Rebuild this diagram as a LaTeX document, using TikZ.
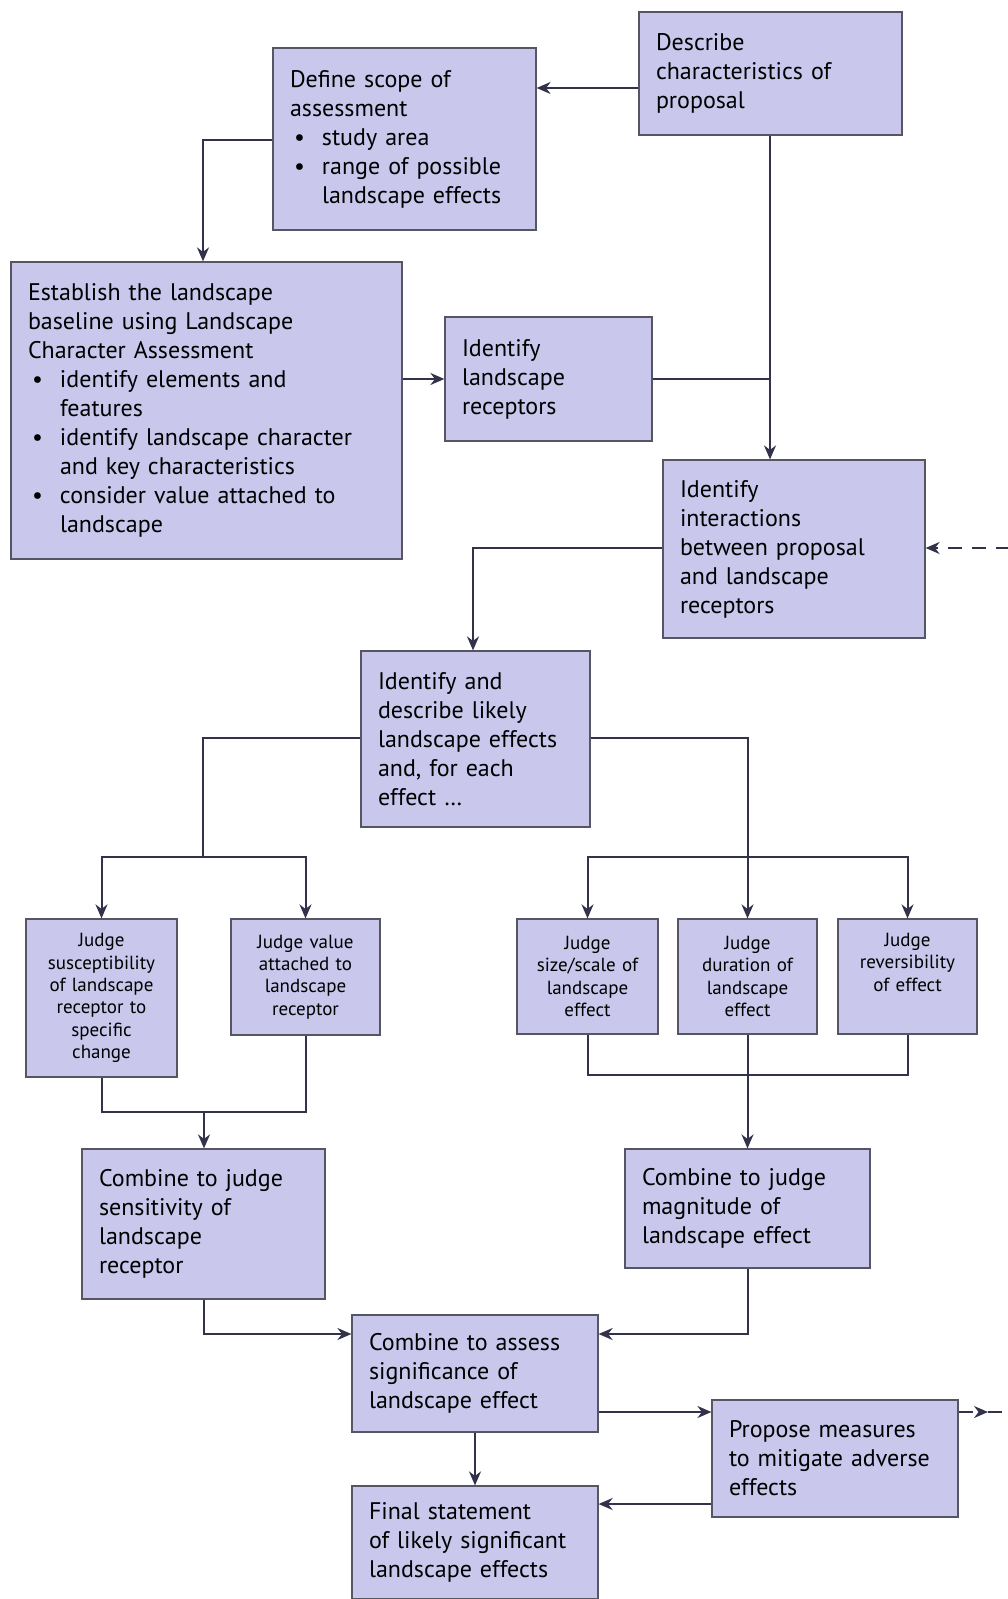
\documentclass[tikz,border=0pt]{standalone}
\usepackage{fontspec}
\setmainfont{PT Sans}
\usetikzlibrary{arrows.meta}
\definecolor{boxfill}{RGB}{201,199,236}
\definecolor{boxline}{RGB}{85,85,100}
\definecolor{linecol}{RGB}{50,50,75}
\newcommand{\bul}{\makebox[16pt][l]{\hspace{2pt}\textbullet}}
\newcommand{\cont}{\hspace*{16pt}}
\tikzset{%
    box/.style={%
        draw=boxline, fill=boxfill, line width=0.6pt, inner xsep=8.5pt, inner ysep=4pt,
        align=left, font=\fontsize{12}{14.5}\selectfont
    },
    judge/.style={%
        box, align=center, inner xsep=2pt, font=\fontsize{9.5}{11.2}\selectfont
    },
    link/.style={draw=linecol, line width=1pt},
    arr/.style={link, -{Stealth[length=7pt,width=6pt]}},
    feedback/.style={dash pattern=on 7pt off 5pt}
}

\begin{document}
\begin{tikzpicture}[x=0.5pt, y=-0.5pt]
    \useasboundingbox (0,0) rectangle (1007,1599);
    % boxes
    \node[box, text width=114.5pt, minimum height=61.5pt] (desc) at (770.5,73.5)
        {Describe\\characteristics of\\proposal};
    \node[box, text width=114.5pt, minimum height=91pt] (scope) at (404.5,139)
        {Define scope of\\assessment\\\bul study area\\\bul range of possible\\\cont landscape effects};
    \node[box, text width=178.5pt, minimum height=148.5pt] (base) at (206.5,410.5)
        {Establish the landscape\\baseline using Landscape\\Character Assessment\\
         \bul identify elements and\\\cont features\\
         \bul identify landscape character\\\cont and key characteristics\\
         \bul consider value attached to\\\cont landscape};
    \node[box, text width=86.5pt, minimum height=62pt] (recep) at (548.5,379)
        {Identify\\landscape\\receptors};
    \node[box, text width=114pt, minimum height=89pt] (inter) at (794,549)
        {Identify\\interactions\\between proposal\\and landscape\\receptors};
    \node[box, text width=97.5pt, minimum height=88pt] (ident) at (475.5,739)
        {Identify and\\describe likely\\landscape effects\\and, for each\\effect \dots};
    \node[judge, text width=71.5pt, minimum height=79pt] (susc) at (101.5,998)
        {Judge\\susceptibility\\of landscape\\receptor to\\specific\\change};
    \node[judge, text width=70.5pt, minimum height=58pt] (value) at (305.5,977)
        {Judge value\\attached to\\landscape\\receptor};
    \node[judge, text width=66.5pt, minimum height=57.5pt] (size) at (587.5,976.5)
        {Judge\\size/scale of\\landscape\\effect};
    \node[judge, text width=65.5pt, minimum height=57.5pt] (dur) at (747.5,976.5)
        {Judge\\duration of\\landscape\\effect};
    \node[judge, text width=65.5pt, minimum height=57.5pt] (rev) at (907.5,976.5)
        {Judge\\reversibility\\of effect\\\strut};
    \node[box, text width=104.5pt, minimum height=75pt] (sens) at (203.5,1224)
        {Combine to judge\\sensitivity of\\landscape\\receptor};
    \node[box, text width=105.5pt, minimum height=59.5pt] (magn) at (747.5,1208.5)
        {Combine to judge\\magnitude of\\landscape effect};
    \node[box, text width=106pt, minimum height=58.5pt] (signif) at (475,1373.5)
        {Combine to assess\\significance of\\landscape effect};
    \node[box, text width=106pt, minimum height=58.5pt] (mitig) at (835,1458.5)
        {Propose measures\\to mitigate adverse\\effects};
    \node[box, text width=106pt, minimum height=56.5pt] (final) at (475,1542.5)
        {Final statement\\of likely significant\\landscape effects};
    \coordinate (fbin) at (1010,548);
    \coordinate (fbout) at (1010,1412);
    % connectors
    \draw[arr] (desc.west |- 0,88) -- (scope.east |- 0,88);
    \draw[arr] (scope.west |- 0,140) -| (base.north -| 203,0);
    \draw[arr] (base.east |- 0,379) -- (recep.west);
    \draw[arr] (desc.south -| 770,0) -- (inter.north -| 770,0);
    \draw[link] (recep.east) -- (770,379);
    \draw[arr] (inter.west |- 0,548) -| (ident.north -| 473,0);
    \draw[arr, feedback] (fbin) -- (inter.east |- fbin);
    \draw[link] (ident.west |- 0,738) -| (203,857);
    \draw[arr] (203,857) -| (susc.north);
    \draw[arr] (203,857) -| (value.north);
    \draw[arr] (ident.east |- 0,738) -| (dur.north);
    \draw[arr] (dur.north |- 0,857) -| (size.north);
    \draw[arr] (dur.north |- 0,857) -| (rev.north);
    \draw[link] (susc.south) |- (204,1112) -| (value.south);
    \draw[arr] (204,1112) -- (sens.north -| 204,0);
    \draw[link] (size.south) |- (748,1075) -| (rev.south);
    \draw[arr] (dur.south) -- (magn.north);
    \draw[arr] (sens.south) |- (signif.west |- 0,1334);
    \draw[arr] (magn.south) |- (signif.east |- 0,1334);
    \draw[arr] (signif.south) -- (final.north);
    \draw[arr] (signif.east |- fbout) -- (mitig.west |- fbout);
    \draw[arr] (mitig.west |- 0,1504) -- (final.east |- 0,1504);
    \draw[arr, feedback] (mitig.east |- fbout) -- (988,1412);
    \draw[link, feedback] (988,1412) -- (fbout);
\end{tikzpicture}
\end{document}
